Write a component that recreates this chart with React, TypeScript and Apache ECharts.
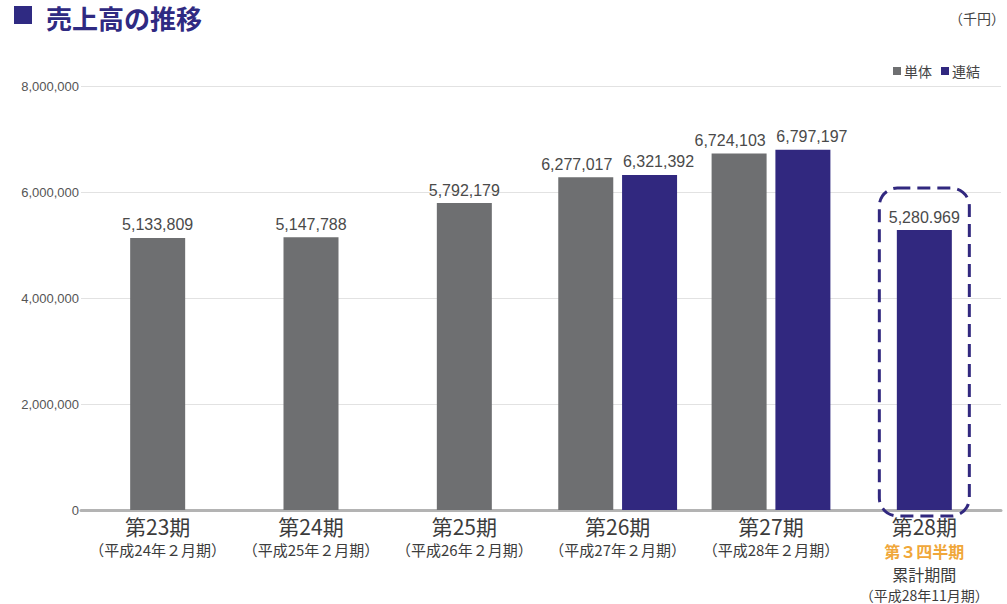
import React, { useEffect, useRef } from "react";
import * as echarts from "echarts";

const periods = ["第23期", "第24期", "第25期", "第26期", "第27期", "第28期"];
const subLabels = [
  "（平成24年２月期）",
  "（平成25年２月期）",
  "（平成26年２月期）",
  "（平成27年２月期）",
  "（平成28年２月期）",
  "（平成28年11月期）",
];
const quarterNote = ["", "", "", "", "", "第３四半期"];
const cumulativeNote = ["", "", "", "", "", "累計期間"];
const standalone = [5133809, 5147788, 5792179, 6277017, 6724103, null];
const consolidated = [null, null, null, 6321392, 6797197, 5280969];
const labelOverrides: Record<number, string> = { 5: "5,280.969" };
const yTicks = [0, 2000000, 4000000, 6000000, 8000000];

const GRAY = "#6e6f71";
const BLUE = "#31287f";
const ORANGE = "#f0a73a";
const JP = "'Noto Sans CJK JP', 'Noto Sans', sans-serif";
const NUM = "'Liberation Sans', Arial, sans-serif";

const fmt = (v: number) => v.toLocaleString("en-US");

export default function App() {
  const ref = useRef<HTMLDivElement>(null);
  useEffect(() => {
    if (!ref.current) return;
    const chart = echarts.init(ref.current, null, { renderer: "svg" });

    const labelStyle = {
      show: true,
      position: "top",
      distance: 5,
      fontFamily: NUM,
      fontSize: 16,
      color: "#4a4a4a",
    };

    const singleData = periods.map((_, i) => {
      const a = standalone[i];
      const b = consolidated[i];
      if (a != null && b == null)
        return { value: a, itemStyle: { color: GRAY } };
      if (b != null && a == null)
        return {
          value: b,
          itemStyle: { color: BLUE },
          label: labelOverrides[i] ? { formatter: labelOverrides[i] } : undefined,
        };
      return null;
    });
    const pairA = periods.map((_, i) =>
      standalone[i] != null && consolidated[i] != null ? standalone[i] : null
    );
    const pairB = periods.map((_, i) =>
      standalone[i] != null && consolidated[i] != null ? consolidated[i] : null
    );

    const option: any = {
      animation: false,
      grid: { left: 81, right: 6, top: 86, bottom: 94, containLabel: false },
      legend: {
        data: ["単体", "連結"],
        right: 22,
        top: 59,
        icon: "rect",
        itemWidth: 8,
        itemHeight: 8,
        itemGap: 9,
        textStyle: { fontFamily: JP, fontSize: 14, color: "#444", padding: [0, 0, 0, -2] },
      },
      xAxis: [
        {
          type: "category",
          data: periods,
          axisTick: { show: false },
          axisLine: { lineStyle: { color: "#b3b3b3", width: 3 } },
          axisLabel: {
            interval: 0,
            margin: 3,
            formatter: (v: string, i: number) => {
              const lines = [`{a|${v}}`];
              if (quarterNote[i]) lines.push(`{c|${quarterNote[i]}}`);
              if (cumulativeNote[i]) lines.push(`{d|${cumulativeNote[i]}}`);
              lines.push(quarterNote[i] ? `{e|${subLabels[i]}}` : `{b|${subLabels[i]}}`);
              return lines.join("\n");
            },
            rich: {
              a: { fontFamily: JP, fontSize: 21, color: "#3c3c3c", lineHeight: 25 },
              b: { fontFamily: JP, fontSize: 15, color: "#3c3c3c", lineHeight: 23 },
              c: { fontFamily: JP, fontSize: 16, color: ORANGE, lineHeight: 25, fontWeight: "bold" },
              d: { fontFamily: JP, fontSize: 16, color: "#3c3c3c", lineHeight: 21 },
              e: { fontFamily: JP, fontSize: 14, color: "#3c3c3c", lineHeight: 21 },
            },
          },
        },
        {
          type: "category",
          data: periods,
          show: false,
        },
      ],
      yAxis: {
        type: "value",
        min: yTicks[0],
        max: yTicks[yTicks.length - 1],
        interval: yTicks[1] - yTicks[0],
        axisLine: { show: false },
        axisTick: { show: false },
        splitLine: { lineStyle: { color: "#e2e2e2", width: 1 } },
        axisLabel: {
          margin: 2,
          fontFamily: NUM,
          fontSize: 13,
          color: "#555",
          formatter: (v: number) => fmt(v),
        },
      },
      series: [
        {
          name: "single",
          type: "bar",
          xAxisIndex: 0,
          barWidth: 55,
          data: singleData,
          label: { ...labelStyle, formatter: (p: any) => fmt(p.value) },
        },
        {
          name: "単体",
          type: "bar",
          xAxisIndex: 1,
          barWidth: 55,
          barGap: "16%",
          itemStyle: { color: GRAY },
          data: pairA,
          label: { ...labelStyle, offset: [-9, 0], formatter: (p: any) => fmt(p.value) },
        },
        {
          name: "連結",
          type: "bar",
          xAxisIndex: 1,
          barWidth: 55,
          barGap: "16%",
          itemStyle: { color: BLUE },
          data: pairB,
          label: { ...labelStyle, offset: [9, 0], formatter: (p: any) => fmt(p.value) },
        },
      ],
    };
    chart.setOption(option);

    const xc = chart.convertToPixel({ xAxisIndex: 0 }, periods[5]) as number;
    const yTop = chart.convertToPixel({ yAxisIndex: 0 }, consolidated[5] as number) as number;
    const y0 = chart.convertToPixel({ yAxisIndex: 0 }, 0) as number;

    chart.setOption({
      graphic: [
        {
          type: "rect",
          left: 14,
          top: 6,
          shape: { width: 18, height: 18 },
          style: { fill: "#2f2a82" },
        },
        {
          type: "text",
          left: 46,
          top: 4,
          style: {
            text: "売上高の推移",
            fontFamily: JP,
            fontSize: 26,
            fontWeight: "bold",
            fill: "#2f2a82",
          },
        },
        {
          type: "text",
          right: 2,
          top: 11,
          style: { text: "（千円）", fontFamily: JP, fontSize: 14, fill: "#444" },
        },
        {
          type: "rect",
          shape: { x: xc - 45, y: yTop - 42, width: 90, height: y0 - yTop + 48, r: 18 },
          style: { fill: "none", stroke: BLUE, lineWidth: 3, lineDash: [13, 7] },
          z: 10,
        },
      ],
    });

    return () => chart.dispose();
  }, []);
  return (
    <div
      ref={ref}
      style={{ position: "fixed", left: 0, top: 0, width: 1007, height: 604, background: "#fff" }}
    />
  );
}
